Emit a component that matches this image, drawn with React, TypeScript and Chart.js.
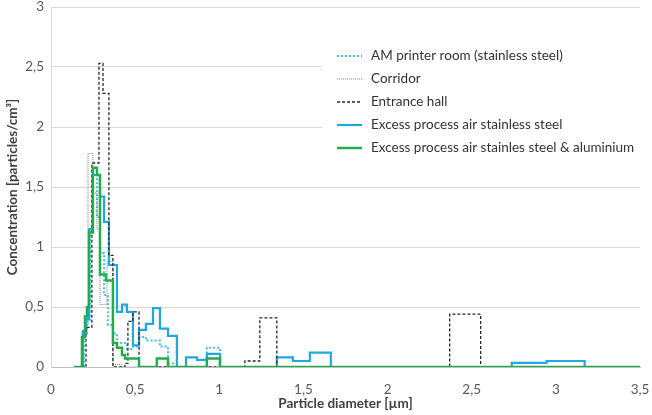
import { useEffect, useRef } from "react";
import Chart, { ChartConfiguration, Plugin } from "chart.js/auto";

// tick values (labels use comma decimals)
const xTicks = [0, 0.5, 1, 1.5, 2, 2.5, 3, 3.5];
const yTicks = [0, 0.5, 1, 1.5, 2, 2.5, 3];

// bin left edges and values, each value holds until the next edge
const printerX = [0.15, 0.196, 0.214, 0.232, 0.249, 0.273, 0.291, 0.315, 0.338, 0.368, 0.392, 0.451, 0.487, 0.523, 0.564, 0.647, 0.695, 0.748, 0.926, 1.004, 3.5];
const printerY = [0, 0.28, 0.38, 1.15, 1.6, 1.25, 0.95, 0.6, 0.35, 0.28, 0.2, 0.15, 0.17, 0.25, 0.22, 0.17, 0.03, 0, 0.16, 0, 0];

const corridorX = [0.15, 0.184, 0.202, 0.22, 0.249, 0.273, 0.291, 0.333, 0.368, 0.42, 3.5];
const corridorY = [0, 0.3, 0.35, 1.78, 1.45, 1.15, 0.52, 0.88, 0.02, 0, 0];

const hallX = [0.15, 0.208, 0.243, 0.285, 0.309, 0.344, 0.368, 0.439, 0.457, 0.487, 0.523, 1.152, 1.241, 1.342, 2.369, 2.553, 3.5];
const hallY = [0, 0.33, 1.7, 2.53, 2.28, 0.93, 0, 0.03, 0.38, 0.46, 0, 0.05, 0.41, 0, 0.44, 0, 0];

const steelX = [0.15, 0.19, 0.208, 0.226, 0.249, 0.291, 0.315, 0.344, 0.392, 0.422, 0.451, 0.487, 0.523, 0.564, 0.606, 0.647, 0.695, 0.748, 0.802, 0.867, 0.926, 1.004, 1.342, 1.437, 1.538, 1.663, 2.738, 2.945, 3.171, 3.5];
const steelY = [0, 0.3, 0.4, 1.15, 1.6, 1.42, 1.21, 0.85, 0.46, 0.52, 0.46, 0.18, 0.31, 0.36, 0.49, 0.32, 0.26, 0, 0.08, 0.06, 0.11, 0, 0.08, 0.05, 0.12, 0, 0.035, 0.05, 0, 0];

const alumX = [0.137, 0.184, 0.202, 0.214, 0.226, 0.249, 0.273, 0.291, 0.327, 0.368, 0.392, 0.422, 0.44, 0.523, 0.629, 0.695, 0.926, 1.004, 3.5];
const alumY = [0, 0.25, 0.42, 0.5, 1.12, 1.66, 1.6, 0.77, 0.72, 0.2, 0.16, 0.1, 0.07, 0, 0.07, 0, 0.07, 0, 0];

const series = [
  { label: "AM printer room (stainless steel)", xs: printerX, ys: printerY, color: "#45bde8", width: 2, dash: [2, 2], order: 4 },
  { label: "Corridor", xs: corridorX, ys: corridorY, color: "#7f7f7f", width: 1, dash: [1, 1], order: 3 },
  { label: "Entrance hall", xs: hallX, ys: hallY, color: "#262626", width: 1.3, dash: [3, 2], order: 1 },
  { label: "Excess process air stainless steel", xs: steelX, ys: steelY, color: "#1ea8e6", width: 2.2, dash: [], order: 2 },
  { label: "Excess process air stainles steel & aluminium", xs: alumX, ys: alumY, color: "#22ad4c", width: 2.5, dash: [], order: 0 },
];

const comma = (v: number) => String(v).replace(".", ",");
const FONT = "Lato";
const SIZE = 13.5;

const App = () => {
  const chartRef = useRef<HTMLCanvasElement>(null);

  useEffect(() => {
    if (!chartRef.current) return;

    // legend drawn inside the plot on a white box
    const legendBox: Plugin<"line"> = {
      id: "legend_box",
      afterDraw: (chart) => {
        const ctx = chart.ctx;
        ctx.save();
        ctx.fillStyle = "white";
        ctx.fillRect(322, 40, 330, 130);
        ctx.font = `${SIZE}px ${FONT}`;
        ctx.textBaseline = "middle";
        ctx.fillStyle = "#333333";
        series.forEach((s, i) => {
          const y = 56 + i * 23;
          ctx.beginPath();
          ctx.strokeStyle = s.color;
          ctx.lineWidth = s.width;
          ctx.setLineDash(s.dash);
          ctx.moveTo(337, y);
          ctx.lineTo(362, y);
          ctx.stroke();
          ctx.fillText(s.label, 371, y);
        });
        ctx.restore();
      },
    };

    const config: ChartConfiguration<"line"> = {
      type: "line",
      data: {
        datasets: series.map((s) => ({
          label: s.label,
          data: s.xs.map((x, i) => ({ x, y: s.ys[i] })),
          stepped: true,
          borderColor: s.color,
          borderWidth: s.width,
          borderDash: s.dash,
          pointRadius: 0,
          pointHoverRadius: 0,
          fill: false,
          order: s.order,
        })),
      },
      options: {
        animation: false,
        responsive: true,
        maintainAspectRatio: false,
        layout: { autoPadding: false, padding: { top: 7, right: 12, left: 0, bottom: 0 } },
        plugins: {
          legend: { display: false },
          tooltip: { enabled: false },
        },
        scales: {
          x: {
            type: "linear",
            min: 0,
            max: 3.5,
            afterFit: (scale) => {
              scale.height = 48;
              scale.paddingLeft = 0;
              scale.paddingRight = 0;
            },
            afterBuildTicks: (scale) => {
              scale.ticks = xTicks.map((value) => ({ value }));
            },
            grid: { display: false },
            border: { color: "#bfbfbf" },
            ticks: {
              padding: 7,
              color: "#595959",
              font: { family: FONT, size: SIZE },
              callback: (v) => comma(Number(v)),
            },
            title: {
              display: true,
              text: "Particle diameter [µm]",
              color: "#404040",
              font: { family: FONT, size: SIZE, weight: "bold" },
              padding: { top: 0, bottom: 3 },
            },
          },
          y: {
            min: 0,
            max: 3,
            afterFit: (scale) => {
              scale.width = 51;
              scale.paddingTop = 0;
              scale.paddingBottom = 0;
            },
            afterBuildTicks: (scale) => {
              scale.ticks = yTicks.map((value) => ({ value }));
            },
            grid: { color: "#d9d9d9", drawTicks: false },
            border: { color: "#d9d9d9" },
            ticks: {
              padding: 7,
              color: "#595959",
              font: { family: FONT, size: SIZE },
              callback: (v) => comma(Number(v)),
            },
            title: {
              display: true,
              text: "Concentration [particles/cm³]",
              color: "#404040",
              font: { family: FONT, size: SIZE, weight: "bold" },
              padding: { top: 5, bottom: 0 },
            },
          },
        },
      },
      plugins: [legendBox],
    };

    const myChart = new Chart(chartRef.current, config);
    return () => {
      myChart.destroy();
    };
  }, []);

  return (
    <div style={{ position: "absolute", left: 0, top: 0, width: 652, height: 415, background: "white" }}>
      <canvas ref={chartRef} />
    </div>
  );
};

export default App;
